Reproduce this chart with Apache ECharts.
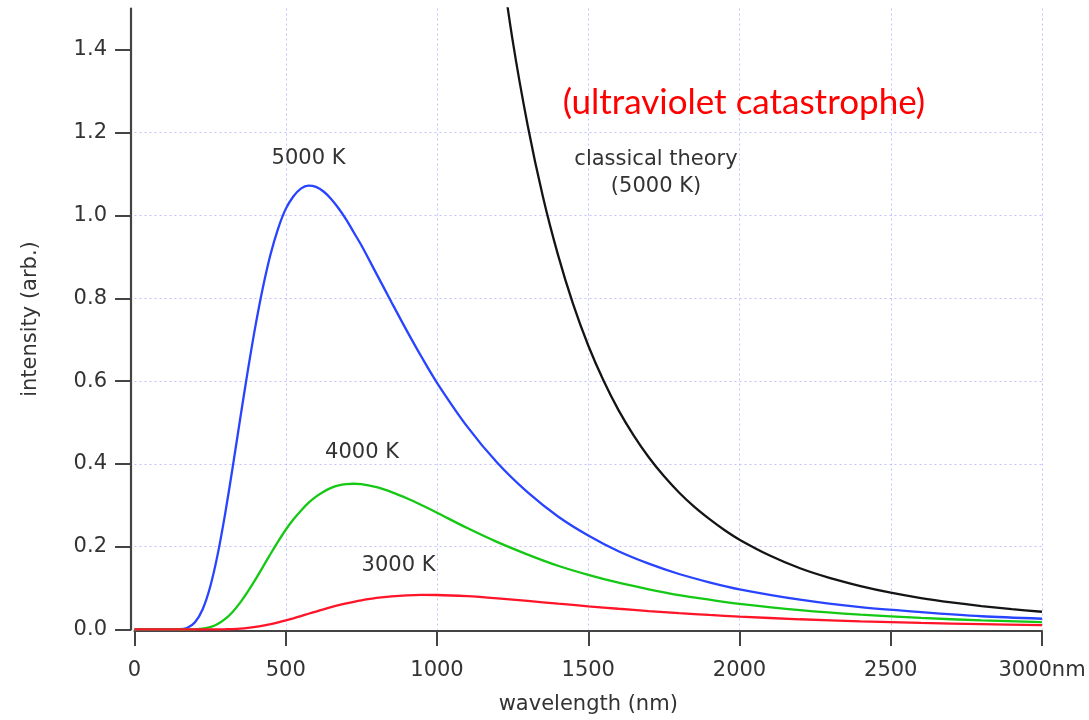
<!DOCTYPE html>
<html>
<head>
<meta charset="utf-8">
<script src="https://cdn.jsdelivr.net/npm/echarts@6/dist/echarts.min.js"></script>
<style>
html,body{margin:0;padding:0;background:#ffffff;}
#chart{width:1089px;height:720px;}
</style>
</head>
<body>
<div id="chart"></div>
<script>
const wavelengths = [0, 100, 150, 175, 200, 225, 250, 275, 300, 325, 350, 375, 400, 425, 450, 475, 500,
  525, 550, 575, 600, 625, 650, 675, 700, 725, 750, 800, 850, 900, 950, 1000, 1100, 1200, 1300, 1400,
  1500, 1600, 1700, 1800, 1900, 2000, 2200, 2400, 2600, 2800, 3000];

const intensity5000K = [0, 0, 0.0006, 0.0044, 0.0176, 0.0484, 0.1027, 0.1815, 0.281, 0.394, 0.512, 0.627,
  0.734, 0.828, 0.907, 0.969, 1.016, 1.046, 1.065, 1.072, 1.069, 1.058, 1.040, 1.017, 0.990, 0.959, 0.928,
  0.859, 0.790, 0.722, 0.657, 0.596, 0.490, 0.402, 0.331, 0.273, 0.227, 0.189, 0.159, 0.134, 0.114,
  0.097, 0.072, 0.054, 0.042, 0.032, 0.026];

const intensity4000K = [0, 0, 0, 0, 0.0005, 0.002, 0.0058, 0.0133, 0.0255, 0.043, 0.0655, 0.092, 0.121,
  0.152, 0.183, 0.213, 0.241, 0.2655, 0.287, 0.306, 0.321, 0.333, 0.342, 0.348, 0.351, 0.352, 0.351,
  0.344, 0.332, 0.317, 0.300, 0.282, 0.245, 0.211, 0.181, 0.154, 0.132, 0.113, 0.097, 0.083, 0.072,
  0.062, 0.047, 0.036, 0.028, 0.022, 0.018];

const intensity3000K = [0, 0, 0, 0, 0, 0, 0, 0, 0.0005, 0.0011, 0.0021, 0.0038, 0.0061, 0.0091, 0.0127,
  0.0170, 0.0219, 0.0270, 0.0325, 0.0380, 0.0434, 0.0488, 0.0539, 0.0586, 0.0630, 0.0670, 0.0705,
  0.0762, 0.0802, 0.0826, 0.0835, 0.0833, 0.0804, 0.0752, 0.0690, 0.0625, 0.0561, 0.0501, 0.0446,
  0.0396, 0.0352, 0.0312, 0.0247, 0.0197, 0.0158, 0.0128, 0.0104];

// Classical (Rayleigh-Jeans) curve, 5000 K
const classicalWavelengths = [1200, 1250, 1300, 1350, 1400, 1450, 1500, 1550, 1600, 1650, 1700, 1750,
  1800, 1850, 1900, 1950, 2000, 2100, 2200, 2300, 2400, 2500, 2600, 2700, 2800, 2900, 3000];
const classical5000K = [1.676, 1.423, 1.217, 1.046, 0.905, 0.786, 0.686, 0.602, 0.530, 0.469, 0.416,
  0.3705, 0.331, 0.2967, 0.267, 0.2403, 0.217, 0.1787, 0.148, 0.1242, 0.105, 0.0890, 0.076, 0.0654,
  0.0565, 0.0491, 0.0429];

const xTicks = [0, 500, 1000, 1500, 2000, 2500, 3000];
const yTicks = [0, 0.2, 0.4, 0.6, 0.8, 1.0, 1.2, 1.4];

const FONT = 'DejaVu Sans';
const AXIS_COLOR = '#444444';
const TEXT_COLOR = '#333333';
const GRID_COLOR = '#c0c0ff';

function pairs(xs, ys) { return xs.map((x, i) => [x, ys[i]]); }

function lineSeries(name, data, color) {
  return {
    name: name, type: 'line', data: data, showSymbol: false, symbol: 'none',
    smooth: 0.3, clip: true,
    lineStyle: { color: color, width: 2.3 }, emphasis: { disabled: true }, z: 3
  };
}

const chart = echarts.init(document.getElementById('chart'), null, { renderer: 'canvas' });

chart.setOption({
  animation: false,
  backgroundColor: '#ffffff',
  grid: { left: 134.5, right: 47, top: 8.5, bottom: 90, containLabel: false },
  xAxis: {
    type: 'value', min: 0, max: 3000, interval: 500, offset: 1.5,
    axisLine: { show: true, onZero: false, lineStyle: { color: AXIS_COLOR, width: 2.2 } },
    axisTick: { show: true, length: 15, customValues: xTicks, lineStyle: { color: AXIS_COLOR, width: 2 } },
    axisLabel: {
      show: true, margin: 29, fontSize: 21, color: TEXT_COLOR, fontFamily: FONT,
      customValues: xTicks,
      formatter: v => (v === 3000 ? '3000nm' : String(v))
    },
    splitLine: { show: true, showMinLine: false, lineStyle: { color: GRID_COLOR, type: [2, 3], width: 1 } },
    name: 'wavelength (nm)', nameLocation: 'middle', nameGap: 63,
    nameTextStyle: { fontSize: 21, color: TEXT_COLOR, fontFamily: FONT }
  },
  yAxis: {
    type: 'value', min: 0, max: 1.5, interval: 0.2, offset: 3.5,
    axisLine: { show: true, onZero: false, lineStyle: { color: AXIS_COLOR, width: 2.2 } },
    axisTick: { show: true, length: 16, customValues: yTicks, lineStyle: { color: AXIS_COLOR, width: 2 } },
    axisLabel: {
      show: true, margin: 24, fontSize: 21, color: TEXT_COLOR, fontFamily: FONT,
      customValues: yTicks, formatter: v => Number(v).toFixed(1)
    },
    splitLine: { show: true, showMinLine: false, showMaxLine: false,
      lineStyle: { color: GRID_COLOR, type: [2, 3], width: 1 } },
    name: 'intensity (arb.)', nameLocation: 'middle', nameGap: 90,
    nameTextStyle: { fontSize: 21, color: TEXT_COLOR, fontFamily: FONT }
  },
  series: [
    lineSeries('classical theory (5000 K)', pairs(classicalWavelengths, classical5000K), '#141414'),
    lineSeries('5000 K', pairs(wavelengths, intensity5000K), '#2844ff'),
    lineSeries('4000 K', pairs(wavelengths, intensity4000K), '#14c814'),
    lineSeries('3000 K', pairs(wavelengths, intensity3000K), '#ff1428')
  ],
  graphic: [
    { type: 'text', z: 10, style: { text: '5000 K', x: 308.5, y: 158.5, align: 'center', verticalAlign: 'middle', fill: TEXT_COLOR, font: '21px "DejaVu Sans"' } },
    { type: 'text', z: 10, style: { text: '4000 K', x: 362, y: 452.5, align: 'center', verticalAlign: 'middle', fill: TEXT_COLOR, font: '21px "DejaVu Sans"' } },
    { type: 'text', z: 10, style: { text: '3000 K', x: 398.5, y: 566, align: 'center', verticalAlign: 'middle', fill: TEXT_COLOR, font: '21px "DejaVu Sans"' } },
    { type: 'text', z: 10, style: { text: 'classical theory', x: 656, y: 160, align: 'center', verticalAlign: 'middle', fill: TEXT_COLOR, font: '21px "DejaVu Sans"' } },
    { type: 'text', z: 10, style: { text: '(5000 K)', x: 656, y: 187, align: 'center', verticalAlign: 'middle', fill: TEXT_COLOR, font: '21px "DejaVu Sans"' } },
    { type: 'text', z: 10, style: { text: '(ultraviolet catastrophe)', x: 744, y: 103, align: 'center', verticalAlign: 'middle', fill: '#ff0000', font: '35px Lato' } }
  ]
});
</script>
</body>
</html>
